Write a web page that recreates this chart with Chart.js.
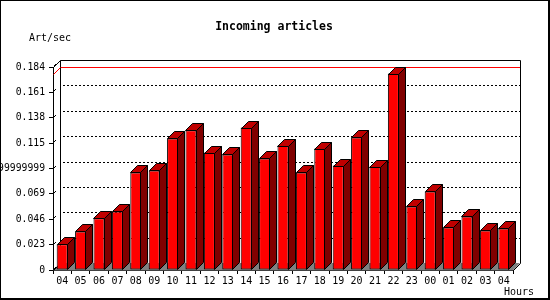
<!DOCTYPE html>
<html>
<head>
<meta charset="utf-8">
<title>Incoming articles</title>
<script src="https://cdn.jsdelivr.net/npm/chart.js@4/dist/chart.umd.min.js"></script>
<style>
  html, body { margin: 0; padding: 0; background: #fff; }
  canvas { display: block; }
</style>
</head>
<body>
<canvas id="chart" width="550" height="300"></canvas>
<script>
'use strict';

/* ---------- data ---------- */
const hours = ['04', '05', '06', '07', '08', '09', '10', '11', '12', '13', '14', '15',
  '16', '17', '18', '19', '20', '21', '22', '23', '00', '01', '02', '03', '04'];

// articles per second
const artPerSec = [0.0233, 0.0350, 0.0468, 0.0531, 0.0884, 0.0902, 0.1192, 0.1267,
  0.1065, 0.1047, 0.1291, 0.1011, 0.1128, 0.0884, 0.1101, 0.0947, 0.1201, 0.0938,
  0.1780, 0.0576, 0.0712, 0.0386, 0.0486, 0.0359, 0.0377];

const yTicks = [0, 0.023, 0.046, 0.069, 0.092, 0.115, 0.138, 0.161, 0.184];
const yTickLabels = ['0', '0.023', '0.046', '0.069', '0.0919999999999',
  '0.115', '0.138', '0.161', '0.184'];

const titleText = 'Incoming articles';
const yTitle = 'Art/sec';
const xTitle = 'Hours';

/* ---------- look ---------- */
const DEPTH = 7;
const MONO = '"DejaVu Sans Mono", "Liberation Mono", monospace';
const FRONT = '#ff0000';
const TOP = '#c00000';
const SIDE = '#800000';
const FLOOR = '#808080';

// helper: 1px line
function seg(ctx, x1, y1, x2, y2) {
  ctx.beginPath();
  ctx.moveTo(x1, y1);
  ctx.lineTo(x2, y2);
  ctx.stroke();
}

/* ---------- 3D box plugin ---------- */
const box3d = {
  id: 'box3d',
  beforeDraw(chart) {
    const { ctx, width, height } = chart;
    ctx.save();
    ctx.fillStyle = '#fff';
    ctx.fillRect(0, 0, width, height);
    // frame: thin top/left, heavier right/bottom
    ctx.fillStyle = '#000';
    ctx.fillRect(0, 0, width, 1);
    ctx.fillRect(0, 0, 1, height);
    ctx.fillRect(width - 2, 0, 2, height);
    ctx.fillRect(0, height - 2, width, 2);
    ctx.restore();
  },
  beforeDatasetsDraw(chart) {
    const { ctx, chartArea: a, scales: { y } } = chart;
    const d = DEPTH;
    const L = Math.round(a.left), R = Math.round(a.right);
    const T = Math.round(a.top), B = Math.round(a.bottom);
    ctx.save();
    ctx.lineWidth = 1;

    // floor
    ctx.fillStyle = FLOOR;
    ctx.beginPath();
    ctx.moveTo(L, B + 0.5);
    ctx.lineTo(R, B + 0.5);
    ctx.lineTo(R + d, B - d);
    ctx.lineTo(L + d, B - d);
    ctx.closePath();
    ctx.fill();

    // dotted grid on the back wall
    ctx.strokeStyle = '#000';
    ctx.setLineDash([2, 2]);
    yTicks.forEach(v => {
      if (v <= 0 || v >= yTicks[yTicks.length - 1]) return;
      const yy = Math.round(y.getPixelForValue(v)) - d + 0.5;
      seg(ctx, L + d + 3, yy, R + d, yy);
    });
    ctx.setLineDash([]);

    // little depth marks at each tick
    yTicks.forEach(v => {
      const yy = Math.round(y.getPixelForValue(v));
      seg(ctx, L + 1, yy - 1, L + 3, yy - 3);
    });

    // back wall frame
    ctx.beginPath();
    ctx.moveTo(L + d + 0.5, B - d + 0.5);
    ctx.lineTo(L + d + 0.5, T - d + 0.5);
    ctx.lineTo(R + d + 0.5, T - d + 0.5);
    ctx.lineTo(R + d + 0.5, B - d + 0.5);
    ctx.stroke();

    // corner edges
    seg(ctx, L + 0.5, T + 0.5, L + d + 0.5, T - d + 0.5);
    seg(ctx, L + 0.5, B + 0.5, L + d + 0.5, B - d + 0.5);
    seg(ctx, R + 0.5, B + 0.5, R + d + 0.5, B - d + 0.5);

    // red line at the peak value
    const peak = Math.max(...artPerSec);
    const yp = Math.round(y.getPixelForValue(peak));
    ctx.strokeStyle = '#ff0000';
    seg(ctx, L + d + 1, yp - d + 0.5, R + d, yp - d + 0.5);
    seg(ctx, L + 0.5, yp + 0.5, L + d + 0.5, yp - d + 0.5);
    ctx.restore();
  },
  afterDatasetsDraw(chart) {
    const { ctx } = chart;
    const d = DEPTH;
    const meta = chart.getDatasetMeta(0);
    ctx.save();
    ctx.lineWidth = 1;
    ctx.strokeStyle = '#000';
    meta.data.forEach(bar => {
      const p = bar.getProps(['x', 'y', 'width', 'base'], true);
      const l = Math.round(p.x - p.width / 2) + 0.5;
      const r = Math.round(p.x + p.width / 2) - 0.5;
      const t = Math.round(p.y) + 0.5;
      const b = Math.round(p.base) - 0.5;

      // top face
      ctx.fillStyle = TOP;
      ctx.beginPath();
      ctx.moveTo(l, t);
      ctx.lineTo(l + d, t - d);
      ctx.lineTo(r + d, t - d);
      ctx.lineTo(r, t);
      ctx.closePath();
      ctx.fill();
      ctx.stroke();

      // side face
      ctx.fillStyle = SIDE;
      ctx.beginPath();
      ctx.moveTo(r, t);
      ctx.lineTo(r + d, t - d);
      ctx.lineTo(r + d, b - d);
      ctx.lineTo(r, b);
      ctx.closePath();
      ctx.fill();
      ctx.stroke();
    });
    ctx.restore();
  },
  afterDraw(chart) {
    const { ctx } = chart;
    ctx.save();
    ctx.fillStyle = '#000';
    ctx.textBaseline = 'middle';
    ctx.font = 'bold 11.5px ' + MONO;
    ctx.textAlign = 'center';
    ctx.fillText(titleText, 274, 27);
    ctx.font = '10px ' + MONO;
    ctx.textAlign = 'left';
    ctx.fillText(yTitle, 29, 38);
    ctx.textAlign = 'right';
    ctx.fillText(xTitle, 534, 292);
    ctx.restore();
  }
};

/* ---------- chart ---------- */
Chart.defaults.font.family = MONO;
Chart.defaults.font.size = 10;
Chart.defaults.color = '#000';

new Chart(document.getElementById('chart').getContext('2d'), {
  type: 'bar',
  data: {
    labels: hours,
    datasets: [{
      label: yTitle,
      data: artPerSec,
      backgroundColor: FRONT,
      borderColor: '#000',
      borderWidth: 1,
      borderSkipped: false,
      barPercentage: 0.6,
      categoryPercentage: 1.0
    }]
  },
  options: {
    responsive: false,
    animation: false,
    layout: { padding: { top: 67, right: 37, left: 0, bottom: 0 } },
    plugins: {
      legend: { display: false },
      tooltip: { enabled: false },
      title: { display: false }
    },
    scales: {
      x: {
        offset: true,
        afterFit(scale) { scale.height = 30; },
        grid: {
          offset: true,
          drawOnChartArea: false,
          drawTicks: true,
          tickLength: 4,
          color: '#000'
        },
        border: { display: true, color: '#000' },
        ticks: {
          padding: 1,
          autoSkip: false,
          maxRotation: 0,
          color: '#000',
          font: { family: MONO, size: 10 }
        }
      },
      y: {
        min: 0,
        max: yTicks[yTicks.length - 1],
        afterFit(scale) { scale.width = 53; },
        afterBuildTicks(scale) {
          scale.ticks = yTicks.map(v => ({ value: v }));
        },
        grid: {
          drawOnChartArea: false,
          drawTicks: true,
          tickLength: 4,
          color: '#000'
        },
        border: { display: true, color: '#000' },
        ticks: {
          padding: 4,
          autoSkip: false,
          color: '#000',
          font: { family: MONO, size: 9.75 },
          callback(value, index) { return yTickLabels[index]; }
        }
      }
    }
  },
  plugins: [box3d]
});
</script>
</body>
</html>
